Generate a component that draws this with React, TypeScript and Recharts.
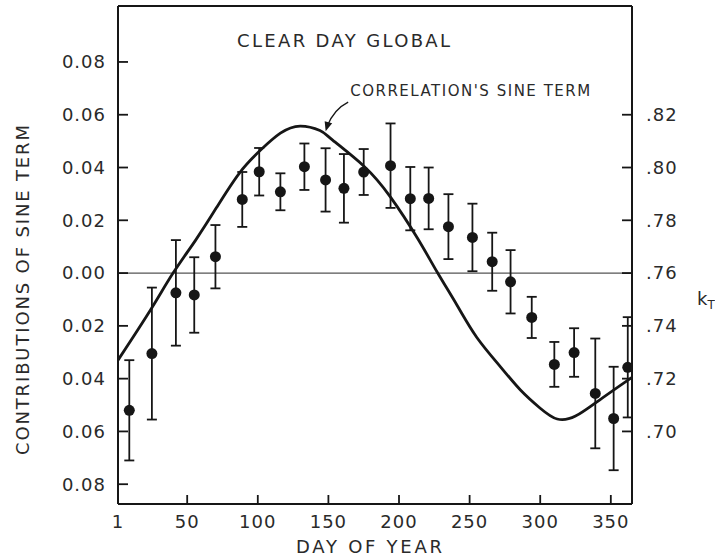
import React from "react";
import {
  ComposedChart,
  Line,
  Scatter,
  ErrorBar,
  XAxis,
  YAxis,
  ReferenceLine,
  ReferenceDot,
  Label,
} from "recharts";

const FONT = "'DejaVu Sans', 'Liberation Sans', sans-serif";
const INK = "#161616";
const TEXT = "#2a2a2a";

// axis ticks
const dayTicks = [1, 50, 100, 150, 200, 250, 300, 350];
const topDayTicks = [50, 100, 150, 200, 250, 300, 350];
const sineTicks = [-0.08, -0.06, -0.04, -0.02, 0, 0.02, 0.04, 0.06, 0.08];
const ktTicks = [0.7, 0.72, 0.74, 0.76, 0.78, 0.8, 0.82];

// right axis is the left one shifted: 0.00 <-> .76
const KT_OFFSET = 0.76;
const sineDomain = [-0.0875, 0.1012];
const ktDomain = [sineDomain[0] + KT_OFFSET, sineDomain[1] + KT_OFFSET];

// measured points (day, value, +/- error)
const obsDays = [9, 25, 42, 55, 70, 89, 101, 116, 133, 148, 161, 175, 194, 208, 221, 235, 252, 266, 279, 294, 310, 324, 339, 352, 362];
const obsValues = [
  -0.052, -0.0305, -0.0075, -0.0083, 0.0062, 0.0279, 0.0384, 0.0308, 0.0403, 0.0353, 0.0321, 0.0383, 0.0407,
  0.0282, 0.0283, 0.0176, 0.0135, 0.0043, -0.0033, -0.0168, -0.0346, -0.0301, -0.0456, -0.0551, -0.0357,
];
const obsErrors = [
  0.019, 0.025, 0.02, 0.0143, 0.012, 0.0104, 0.009, 0.007, 0.0088, 0.012, 0.013, 0.0087, 0.016,
  0.012, 0.0117, 0.0123, 0.0128, 0.011, 0.012, 0.0078, 0.0085, 0.0092, 0.0208, 0.0196, 0.019,
];

// correlation's sine term
const curveDays = [1, 24, 40, 56, 71, 87, 102, 116, 130, 144, 153, 175, 194, 213, 227, 241, 255, 272, 286, 300, 312, 325, 342, 365];
const curveValues = [
  -0.033, -0.014, 0, 0.0125, 0.025, 0.0379, 0.0466, 0.053, 0.0557, 0.054, 0.0504, 0.0406, 0.0288,
  0.0133, 0.0004, -0.0121, -0.0243, -0.0356, -0.0443, -0.0512, -0.0553, -0.0542, -0.0481, -0.0395,
];

const observed = obsDays.map((day, i) => ({ day, v: obsValues[i], err: obsErrors[i] }));
const curve = curveDays.map((day, i) => ({ day, v: curveValues[i] }));

const tickStyle = { fontSize: 18, fill: TEXT, fontFamily: FONT, letterSpacing: 1 };
const lineStyle = { stroke: INK, strokeWidth: 1.8 };

const Dot = (p: any) => <circle cx={p.cx} cy={p.cy} r={5.5} fill={INK} />;

const Title = (p: any) => (
  <text x={p.cx} y={p.cy} fontFamily={FONT} fontSize={18} fill={TEXT} textLength={213} lengthAdjust="spacing">
    CLEAR DAY GLOBAL
  </text>
);

const CurveNote = (p: any) => {
  const { cx, cy } = p;
  return (
    <g>
      <path d={`M${cx + 24},${cy - 31} Q${cx + 10},${cy - 24} ${cx + 3},${cy - 7}`} fill="none" stroke={INK} strokeWidth={1.4} />
      <polygon
        points={`${cx + 1.5},${cy - 2} ${cx + 8},${cy - 10} ${cx + 0.5},${cy - 12}`}
        fill={INK}
      />
      <text x={cx + 26} y={cy - 37} fontFamily={FONT} fontSize={15} fill={TEXT} textLength={240} lengthAdjust="spacing">
        CORRELATION'S SINE TERM
      </text>
    </g>
  );
};

export default function App() {
  return (
    <div style={{ position: "absolute", left: 0, top: 0, background: "#fff" }}>
      <ComposedChart width={715} height={560} margin={{ top: 0, right: 0, bottom: 0, left: 0 }}>
        <XAxis
          xAxisId="b"
          dataKey="day"
          type="number"
          domain={[1, 365]}
          ticks={dayTicks}
          allowDataOverflow
          height={56}
          axisLine={{ stroke: INK, strokeWidth: 2 }}
          tickLine={lineStyle}
          tickSize={-9}
          tickMargin={20}
          tick={tickStyle}
        >
          <Label
            content={() => (
              <text x={369} y={553} textAnchor="middle" fontFamily={FONT} fontSize={18} fill={TEXT} textLength={146} lengthAdjust="spacing">
                DAY OF YEAR
              </text>
            )}
          />
        </XAxis>
        <XAxis
          xAxisId="t"
          orientation="top"
          type="number"
          domain={[1, 365]}
          ticks={topDayTicks}
          allowDataOverflow
          height={6}
          axisLine={{ stroke: INK, strokeWidth: 2 }}
          tickLine={lineStyle}
          tickSize={-10}
          tick={false}
        />
        <YAxis
          yAxisId="l"
          type="number"
          domain={sineDomain}
          ticks={sineTicks}
          allowDataOverflow
          width={118}
          axisLine={{ stroke: INK, strokeWidth: 2 }}
          tickLine={lineStyle}
          tickSize={-10}
          tickMargin={22}
          tick={tickStyle}
          tickFormatter={(v: number) => Math.abs(v).toFixed(2)}
        >
          <Label
            content={() => (
              <text
                x={22}
                y={290}
                transform="rotate(-90 22 290)"
                textAnchor="middle"
                dominantBaseline="central"
                fontFamily={FONT}
                fontSize={18}
                fill={TEXT}
                textLength={330}
                lengthAdjust="spacing"
              >
                CONTRIBUTIONS OF SINE TERM
              </text>
            )}
          />
        </YAxis>
        <YAxis
          yAxisId="r"
          orientation="right"
          type="number"
          domain={ktDomain}
          ticks={ktTicks}
          allowDataOverflow
          width={83}
          axisLine={{ stroke: INK, strokeWidth: 2 }}
          tickLine={lineStyle}
          tickSize={-10}
          tickMargin={24}
          tick={{ ...tickStyle, textAnchor: "start" }}
          tickFormatter={(v: number) => v.toFixed(2).replace(/^0/, "")}
        >
          <Label
            content={() => (
              <text x={697} y={305} fontFamily={FONT} fontSize={18} fill={TEXT}>
                k<tspan fontSize={12} dy={4}>T</tspan>
              </text>
            )}
          />
        </YAxis>

        <ReferenceLine xAxisId="b" yAxisId="l" y={0} stroke="#555" strokeWidth={1.3} />

        <Line
          xAxisId="b"
          yAxisId="l"
          data={curve}
          dataKey="v"
          type="natural"
          stroke={INK}
          strokeWidth={2.8}
          dot={false}
          activeDot={false}
          isAnimationActive={false}
        />
        <Scatter xAxisId="b" yAxisId="l" data={observed} dataKey="v" shape={Dot} isAnimationActive={false}>
          <ErrorBar dataKey="err" direction="y" width={5} stroke={INK} strokeWidth={1.8} isAnimationActive={false} />
        </Scatter>

        <ReferenceDot xAxisId="b" yAxisId="l" x={85.3} y={0.0856} shape={Title} ifOverflow="visible" />
        <ReferenceDot xAxisId="b" yAxisId="l" x={147} y={0.053} shape={CurveNote} ifOverflow="visible" />
      </ComposedChart>
    </div>
  );
}
